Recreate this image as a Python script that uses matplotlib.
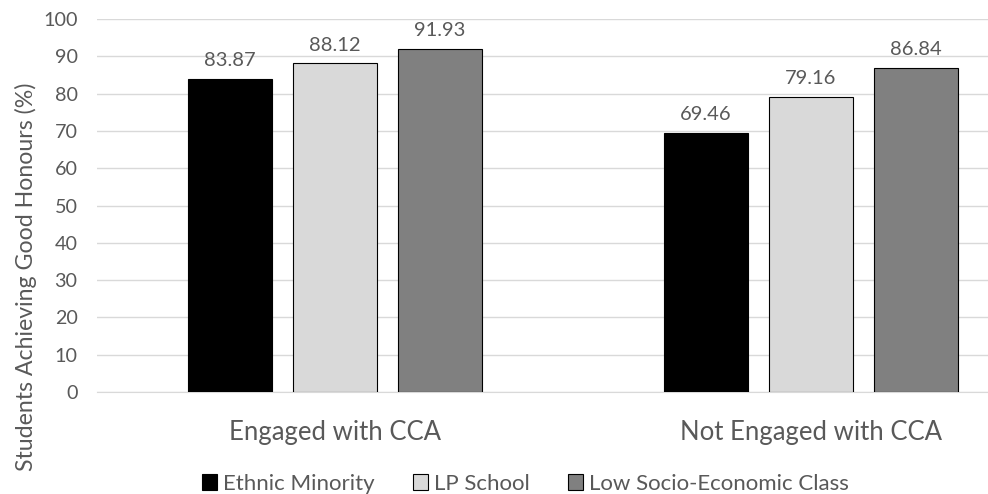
import matplotlib
matplotlib.use('Agg')
import matplotlib.pyplot as plt
import numpy as np

categories = ['Engaged with CCA', 'Not Engaged with CCA']
series_names = ['Ethnic Minority', 'LP School', 'Low Socio-Economic Class']
ethnic_minority = [83.87, 69.46]
lp_school = [88.12, 79.16]
low_ses = [91.93, 86.84]
y_ticks = [0, 10, 20, 30, 40, 50, 60, 70, 80, 90, 100]

plt.rcParams['font.family'] = ['Lato', 'DejaVu Sans']

colors = ['#000000', '#d9d9d9', '#808080']
text_grey = '#595959'

fig = plt.figure(figsize=(9.88, 4.94), dpi=100)
ax = fig.add_axes([0.0982, 0.2065, 0.9018, 0.755])

x = np.arange(len(categories))
width = 0.1765
step = 0.2206

for i, (name, vals) in enumerate(zip(series_names, [ethnic_minority, lp_school, low_ses])):
    bars = ax.bar(x + (i - 1) * step, vals, width, color=colors[i], edgecolor='black',
                  linewidth=0.8, label=name, zorder=3)
    ax.bar_label(bars, labels=[f'{v:.2f}' for v in vals], padding=7,
                 fontsize=14.5, color=text_grey)

ax.set_xlim(-0.5, 1.372)
ax.set_ylim(0, 100)
ax.set_yticks(y_ticks)
ax.set_xticks(x)
ax.set_xticklabels(categories, fontsize=18.5, color=text_grey)
ax.tick_params(axis='x', length=0, pad=20)
ax.tick_params(axis='y', length=0, labelsize=14.2, labelcolor=text_grey, pad=14)
ax.grid(axis='y', color='#d9d9d9', linewidth=1, zorder=0)
for s in ['top', 'right', 'left']:
    ax.spines[s].set_visible(False)
ax.spines['bottom'].set_color('#d9d9d9')
ax.set_ylabel('Students Achieving Good Honours (%)', fontsize=16.7, color=text_grey)
ax.yaxis.set_label_coords(-0.067, 0.31)

fig.legend(loc='lower center', bbox_to_anchor=(0.532, -0.04), ncol=3, frameon=False,
           fontsize=16, labelcolor=text_grey, handlelength=0.67, handleheight=0.67,
           handletextpad=0.3, columnspacing=1.7)

fig.savefig('out.png', dpi=100)
